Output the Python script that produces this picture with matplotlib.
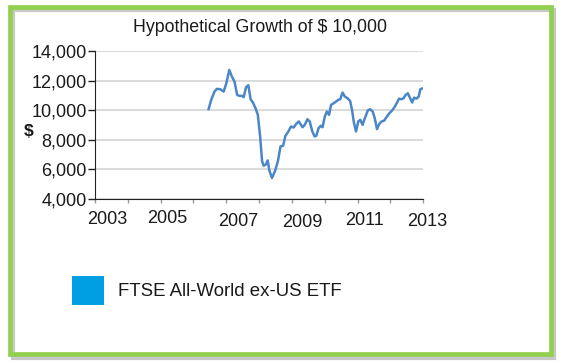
import matplotlib
matplotlib.use("Agg")
import matplotlib.pyplot as plt
import matplotlib.transforms as mtransforms
from matplotlib.patches import Patch, Rectangle
from matplotlib.ticker import FuncFormatter

plt.rcParams["font.family"] = ["Liberation Sans", "DejaVu Sans"]

# decimal year -> value of $10,000 invested
years = [
    2006.46, 2006.54, 2006.64, 2006.71, 2006.81, 2006.92, 2007.00, 2007.09,
    2007.17, 2007.25, 2007.33, 2007.40, 2007.48, 2007.53, 2007.60, 2007.67,
    2007.74, 2007.81, 2007.89, 2007.96, 2008.03, 2008.09, 2008.14, 2008.20,
    2008.26, 2008.31, 2008.39, 2008.48, 2008.57, 2008.65, 2008.73, 2008.80,
    2008.89, 2008.97, 2009.05, 2009.13, 2009.21, 2009.32, 2009.39, 2009.47,
    2009.54, 2009.62, 2009.69, 2009.74, 2009.81, 2009.88, 2009.93, 2010.00,
    2010.06, 2010.13, 2010.19, 2010.27, 2010.34, 2010.41, 2010.47, 2010.54,
    2010.61, 2010.69, 2010.77, 2010.83, 2010.88, 2010.95, 2011.02, 2011.08,
    2011.15, 2011.22, 2011.31, 2011.38, 2011.46, 2011.52, 2011.59, 2011.66,
    2011.73, 2011.81, 2011.89, 2011.97, 2012.05, 2012.12, 2012.19, 2012.26,
    2012.33, 2012.40, 2012.46, 2012.53, 2012.60, 2012.66, 2012.72, 2012.79,
    2012.86, 2012.91, 2012.96,
]
values = [
    10070, 10700, 11260, 11440, 11420, 11260, 11820, 12720,
    12270, 11930, 11030, 10970, 10970, 10880, 11550, 11690,
    10740, 10520, 10130, 9690, 8225, 6540, 6250, 6320,
    6610, 5930, 5420, 5870, 6540, 7550, 7600, 8270,
    8560, 8900, 8830, 9080, 9240, 8850, 9010, 9390,
    9240, 8560, 8225, 8270, 8790, 8950, 8850, 9570,
    9910, 9690, 10360, 10470, 10580, 10700, 10740, 11190,
    10920, 10810, 10630, 10020, 9240, 8560, 9240, 9350,
    9010, 9460, 9980, 10070, 9910, 9460, 8720, 9080,
    9240, 9300, 9570, 9800, 9980, 10200, 10470, 10780,
    10740, 10810, 11030, 11140, 10810, 10520, 10850, 10780,
    10920, 11420, 11460,
]

year_ticks = list(range(2003, 2014))
year_labels = [str(y) if y % 2 == 1 else "" for y in year_ticks]
y_ticks = [4000, 6000, 8000, 10000, 12000, 14000]
series_name = "FTSE All-World ex-US ETF"

fig = plt.figure(figsize=(5.66, 3.64), dpi=100, facecolor="white")
W, H = 566, 364

# green frame with a soft shadow
fig.patches.append(Rectangle((13 / W, 1 - 358 / H), 541 / W, 348 / H,
                             transform=fig.transFigure, facecolor="none",
                             edgecolor="#c8c8c8", lw=3, zorder=-2))
fig.patches.append(Rectangle((10 / W, 1 - 354 / H), 541 / W, 347 / H,
                             transform=fig.transFigure, facecolor="none",
                             edgecolor="#92d050", lw=3.4, zorder=-1))

ax = fig.add_axes([95 / W, 1 - 199 / H, (423.3 - 95) / W, 148 / H])
ax.set_facecolor("none")
ax.plot(years, values, color="#4a86c8", lw=1.8, solid_joinstyle="round")

ax.set_xlim(2003, 2013)
ax.set_ylim(4000, 14000)
ax.set_yticks(y_ticks)
ax.yaxis.set_major_formatter(FuncFormatter(lambda v, p: f"{int(v):,}"))
ax.set_xticks(year_ticks)
ax.set_xticklabels(year_labels)

ax.grid(axis="y", color="#d4d4d4", lw=1.2)
ax.set_axisbelow(True)
for s in ["top", "right"]:
    ax.spines[s].set_visible(False)
ax.spines["left"].set_color("#222222")
ax.spines["bottom"].set_color("#222222")
ax.tick_params(axis="y", length=5, width=1, color="#222222", pad=1,
               labelsize=13, labelcolor="#1a1a1a")
ax.tick_params(axis="x", length=3, width=1, color="#999999", pad=6,
               labelsize=13, labelcolor="#1a1a1a")

# the x labels sit a little off their ticks in the original
x_offsets = {2003: (12, 0), 2005: (7, 1), 2007: (12, -2),
             2009: (10, -3), 2011: (7, -1), 2013: (4, -2)}
for tick in ax.get_xticklabels():
    yr = int(round(tick.get_position()[0]))
    if yr in x_offsets:
        dx, dy = x_offsets[yr]
        tick.set_transform(tick.get_transform() + mtransforms.ScaledTranslation(
            dx / 100, dy / 100, fig.dpi_scale_trans))

fig.text(29 / W, 1 - 131 / H, "$", fontsize=12.5, fontweight="bold",
         ha="center", va="center", color="#1a1a1a")
fig.text(260 / W, 1 - 27 / H, "Hypothetical Growth of $ 10,000",
         fontsize=12.8, ha="center", va="center", color="#1a1a1a")

handle = Patch(facecolor="#009fe3", edgecolor="none")
fig.legend([handle], [series_name], loc="center left",
           bbox_to_anchor=(72 / W, 1 - 290.5 / H), frameon=False,
           fontsize=13.4, handlelength=1.72, handleheight=2.0,
           handletextpad=0.74, borderpad=0, borderaxespad=0,
           labelcolor="#1a1a1a")

fig.savefig("out.png", dpi=100)
